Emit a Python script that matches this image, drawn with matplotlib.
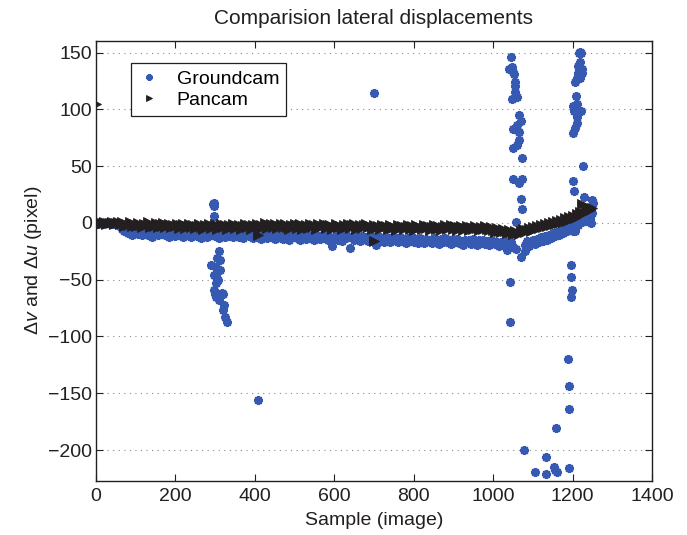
import numpy as np
import matplotlib
matplotlib.use("Agg")
import matplotlib.pyplot as plt

plt.rcParams['font.family'] = ['Liberation Sans', 'DejaVu Sans']
plt.rcParams['mathtext.fontset'] = 'custom'
plt.rcParams['mathtext.rm'] = 'Liberation Sans'
plt.rcParams['mathtext.it'] = 'Liberation Sans:italic'

# ---------------- data ----------------
sample_step = 5
pancam_band = [
    0, 0.5, -0.5, 0, 0.8, -0.6, 0.2, -0.3, 0.6, -0.8, 0, 0.4,
    -1.2, 0.5, -2.8, -0.5, -2.0, 0.8, -3.0, -1.0, -2.5, 0.2,
    -1.8, -3.5, -0.6, -2.2, 0.4, -3.2, -1.5, -2.8, -0.2, -3.8,
    -1.0, -2.6, -0.4, -3.6, -1.8, -0.8, -4.0, -2.0,
    -3.0, -0.8, -4.5, -2.2, -1.0, -4.8, -2.8, -0.6, -3.8, -1.6,
    -4.6, -2.4, -0.9, -3.5, -5.0, -1.8, -3.0, -0.8, -4.4, -2.6,
    -1.2, -4.9, -3.2, -1.0, -3.8, -2.0, -5.2, -1.4, -3.6, -0.8,
    -4.2, -2.8, -1.6, -5.0, -3.0, -1.2, -4.0, -2.2, -5.4, -1.8,
    -2.6, -0.6, -4.2, -1.8, -3.6, -0.4, -4.6, -2.2, -1.0, -3.8,
    -0.8, -4.8, -2.4, -1.2, -4.0, -0.6, -3.2, -5.0, -1.8, -2.8,
    -0.8, -4.4, -2.0, -1.0, -5.0, -3.0, -1.4, -4.2, -0.8, -3.4,
    -2.0, -5.2, -1.2, -3.8, -2.6, -0.8, -4.6, -2.0, -1.4, -5.0,
    -3.2, -1.0, -4.0, -2.4, -5.4, -1.6, -3.6, -0.8, -4.4, -2.2,
    -1.2, -5.0, -3.4, -1.6, -4.6, -2.0, -0.8, -4.0, -2.8, -5.2,
    -1.6, -4.6, -2.8, -5.6, -2.0, -4.0, -2.4, -5.2, -1.4, -4.4,
    -3.2, -5.8, -2.0, -4.2, -2.6, -5.4, -3.6, -1.8, -5.0, -2.8,
    -6.0, -2.2, -4.2, -3.2, -5.6, -2.0, -4.8, -3.0, -6.2, -3.6,
    -2.0, -5.2, -2.8, -4.6, -6.2, -3.2, -2.2, -5.6, -4.0, -2.0,
    -5.0, -3.0, -6.4, -3.8, -2.4, -5.8, -4.2, -2.8, -6.2, -3.6,
    -5.2, -2.6, -4.6, -6.6, -3.4, -5.6, -3.0, -5.0, -6.4, -3.8,
    -5.8, -7.6, -4.6, -6.8, -8.4, -5.4, -7.2, -9.0, -6.2, -8.0,
    -9.6, -6.8, -8.6, -9.8, -7.0, -5.6, -8.0, -6.0, -4.4, -6.8,
    -3.6, -5.4, -2.6, -4.4, -1.8, -3.6, -0.8, -2.8, 0.2, -1.8,
    1.0, -0.6, 2.0, 0.2, 3.0, 1.2, 4.0, 2.0, 5.0, 3.2,
    6.0, 4.0, 8.0, 6.4, 10.0, 17.0, 8.6, 12.0, 14.0, 11.0, 13.0,
]
pancam_extra_x = [0, 409, 699]
pancam_extra_y = [104.6, -10.6, -16.0]

nan = float('nan')
groundcam_band = [
    0, -0.6, 0.4, -1.0, 0.2, -0.4, 0.6, -0.8, 0, -1.2, -0.4, -2.0,
    -3.0, -5.0, -7.5, -6.0, -9.0, -7.0, -10.5, -8.0, -6.4, -9.6,
    -7.6, -11.0, -8.4, -6.8, -10.2, -8.0, -12.0, -7.2, -9.4, -11.0,
    -7.8, -9.8, -6.6, -10.6, -8.6, -12.2, -7.4, -9.6,
    -11.4, -8.0, -10.2, -7.0, -12.0, -9.0, -10.8, -7.6, -12.6, -9.4,
    -8.0, -11.6, -9.8, -13.0, -8.4, -10.4, -12.2, -8.8, -10.8, -7.8,
    -11.8, -9.2, -13.2, -8.6, -10.6, -12.4, -9.0, -11.2, -8.0, -12.8,
    -10.0, -8.6, -12.0, -9.6, -13.4, -10.8, -8.4, -11.6, -9.8, -13.0,
    -9.0, -12.4, -10.2, -14.0, -8.8, -11.8, -13.2, -9.6, -12.0, -10.4,
    -14.2, -9.4, -12.6, -11.0, -13.8, -9.8, -12.2, -14.6, -10.6, -12.8,
    -9.6, -13.4, -11.2, -15.0, -10.0, -12.6, -14.0, -10.8, -13.0, -11.4,
    -15.2, -10.2, -12.8, -14.4, -11.0, -13.6, -10.4, -15.4, -12.0, -20.0,
    -13.2, -11.0, -14.8, -12.2, -15.6, -10.8, -13.4, -11.6, -22.5, -12.6,
    -14.6, -11.2, -13.8, -15.8, -11.8, -14.2, -12.4, -16.0, -11.4, -13.6,
    -12.8, -19.0, -11.4, -15.0, -13.2, -16.4, -12.0, -14.6, -16.8, -12.6,
    -15.2, -13.4, -17.0, -12.4, -15.6, -14.0, -17.4, -13.0, -15.8, -12.8,
    -16.6, -14.2, -17.6, -13.2, -15.4, -18.0, -13.8, -16.2, -14.6, -17.8,
    -13.4, -16.8, -15.0, -18.4, -14.0, -16.4, -13.6, -17.2, -15.4, -18.6,
    -14.4, -16.8, -13.8, -17.6, -15.6, -19.0, -14.6, -17.0, -15.2, -18.8,
    -14.2, -16.6, -19.2, -15.0, -17.4, -14.8, -18.6, -16.0, -19.4, -15.4,
    -15.6, -18.8, -16.4, -20.0, -17.0, -19.6, -15.8, -18.4, -20.6, -17.2, -21.0,
    nan, nan, nan, nan, nan,
    -19.0, -16.2, -20.4, -17.4,
    -15.0, -18.6, -14.2, -17.2, -12.8, -15.8, -11.6, -14.6, -10.4, -13.2,
    -9.0, -11.8, -7.6, -10.2, -6.0, -8.6, -4.4, -6.8, -2.8, -5.0,
    -1.0, -7.0, 1.0, -1.6, 3.0, 0.4, 5.0, 2.0, 7.0, 4.0, 9.0,
]
groundcam_extra_x = [
    295, 296, 297, 297, 310, 306, 313, 289, 301, 313, 296, 302, 308, 301,
    297, 302, 300, 321, 318, 311, 322, 319, 325, 329, 408, 700,
    1044, 1039, 1047, 1049, 1053, 1054, 1055, 1055, 1060, 1047, 1064, 1070,
    1061, 1051, 1060, 1066, 1066, 1061, 1049, 1072, 1049, 1072, 1066, 1070,
    1074, 1058, 1034, 1058, 1081, 1071, 1043, 1043, 1078,
    1217, 1221, 1219, 1219, 1215, 1223, 1215, 1223, 1212, 1219, 1207, 1209,
    1212, 1201, 1204, 1221, 1212, 1212, 1207, 1201, 1226, 1202, 1204, 1228,
    1249, 1251, 1202, 1247,
    1196, 1197, 1198, 1196, 1188, 1190, 1191, 1159, 1133, 1106, 1133, 1154,
    1160, 1192, 1157,
]
groundcam_extra_y = [
    16.5, 15.0, 17.3, 6.4, -24.4, -31, -32.6, -37, -39, -41, -46, -47, -50, -52.6,
    -59, -65, -63, -63, -62, -68, -72, -77, -83, -87, -156, 114.3,
    146, 136, 137, 133, 131, 124.5, 120.7, 115.7, 111, 109, 95, 90,
    86, 82.5, 82, 80.5, 73, 68.7, 66, 57, 39, 39, 35.5, 21,
    12, 1, -24, -23, -24.4, -29.7, -51.7, -87, -200,
    150, 150, 151, 142, 138, 136, 132, 132, 127.5, 127.5, 124.5, 112,
    105, 103, 99, 99, 93, 88, 84, 79, 50, 37, 28, 23,
    20, 18, -7, 0,
    -37, -48, -59, -65, -120, -143.6, -164, -181, -206, -219.6, -221, -215,
    -219, -215.6, -217.6,
]

x_ticks = [0, 200, 400, 600, 800, 1000, 1200, 1400]
y_ticks = [-200, -150, -100, -50, 0, 50, 100, 150]

# ---------------- figure ----------------
fig = plt.figure(figsize=(6.87, 5.35), dpi=100)
ax = fig.add_axes([0.1397, 0.1015, 0.8093, 0.8224])

ground_x = np.concatenate([np.arange(len(groundcam_band)) * sample_step, groundcam_extra_x])
ground_y = np.concatenate([groundcam_band, groundcam_extra_y])
pan_x = np.concatenate([np.arange(len(pancam_band)) * sample_step, pancam_extra_x])
pan_y = np.concatenate([pancam_band, pancam_extra_y])

blue = '#3659b2'
ink = '#231f20'
ax.plot(ground_x, ground_y, linestyle='none', marker=(8, 2, 0), markersize=6.5,
        markeredgewidth=1.6, color=blue, label='Groundcam')
ax.plot(pan_x, pan_y, linestyle='none', marker='>', markersize=7,
        markeredgewidth=0.6, color=ink, label='Pancam')

ax.set_xlim(0, 1400)
ax.set_ylim(-227, 160.5)
ax.set_xticks(x_ticks)
ax.set_yticks(y_ticks)
ax.set_yticklabels([str(v).replace('-', '\u2212') for v in y_ticks])
ax.tick_params(direction='in', top=True, right=True, labelsize=14, length=5,
               width=0.8, colors=ink)
ax.tick_params(axis='x', pad=5)
ax.tick_params(axis='y', pad=3)
for s in ax.spines.values():
    s.set_linewidth(1.0)
    s.set_color(ink)
ax.yaxis.grid(True, linestyle=(0, (1, 4)), color='#8a8a8a', linewidth=0.8)
ax.set_axisbelow(True)

ax.set_title('Comparision lateral displacements', fontsize=15, color=ink, pad=12)
ax.set_xlabel('Sample (image)', fontsize=14, color=ink, labelpad=5)
ax.set_ylabel(r'$\Delta v$ and $\Delta u$ (pixel)', fontsize=14, color=ink, labelpad=3)

leg = ax.legend(loc='upper left', bbox_to_anchor=(0.063, 0.949), fancybox=False,
                fontsize=14, handlelength=1.2, handletextpad=0.8, borderpad=0.35,
                labelspacing=0.2, markerscale=0.7, borderaxespad=0)
leg.get_frame().set_edgecolor(ink)
leg.get_frame().set_linewidth(0.9)
leg.get_frame().set_alpha(1)

fig.savefig('out.png', dpi=100)
